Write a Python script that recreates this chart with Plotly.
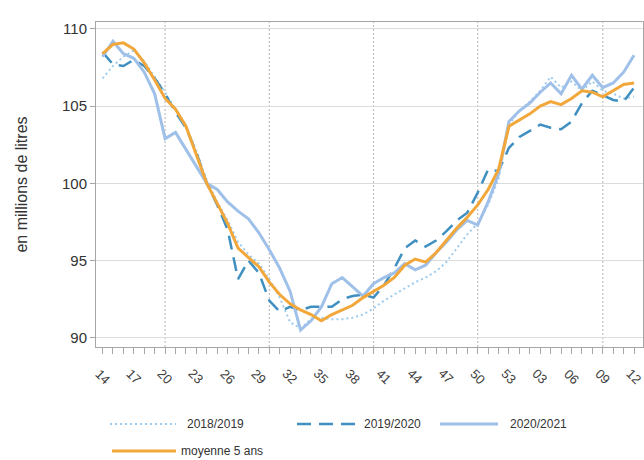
import plotly.graph_objects as go

weeks = ["14", "15", "16", "17", "18", "19", "20", "21", "22", "23", "24", "25", "26",
         "27", "28", "29", "30", "31", "32", "33", "34", "35", "36", "37", "38", "39",
         "40", "41", "42", "43", "44", "45", "46", "47", "48", "49", "50", "51", "52",
         "53", "01", "02", "03", "04", "05", "06", "07", "08", "09", "10", "11", "12"]
tick_labels = ["14", "17", "20", "23", "26", "29", "32", "35", "38", "41", "44", "47",
               "50", "53", "03", "06", "09", "12"]
grid_weeks = ["20", "30", "40", "50", "09"]

s2018 = [106.8, 107.6, 108.2, 108.6, 107.9, 106.9, 105.9, 104.8, 103.7, 102.1, 100.2,
         98.8, 97.6, 96.2, 95.4, 94.8, 93.8, 92.6, 91.0, 90.6, 91.2, 91.3, 91.2, 91.2,
         91.3, 91.5, 91.9, 92.4, 92.8, 93.2, 93.6, 93.9, 94.3, 94.9, 95.8, 96.7, 97.4,
         98.6, 100.3, 103.8, 104.7, 105.3, 106.0, 106.9, 106.2, 106.6, 106.0, 106.6,
         106.0, 105.8, 105.5, 105.6]
s2019 = [108.5, 107.7, 107.6, 108.0, 107.6, 106.8, 105.8, 104.6, 103.6, 102.0, 100.0,
         98.6, 97.0, 93.8, 95.0, 94.2, 92.4, 91.7, 92.0, 91.8, 92.0, 92.0, 92.0, 92.5,
         92.7, 92.8, 92.6, 93.4, 94.5, 95.8, 96.3, 95.9, 96.3, 96.9, 97.6, 98.1, 99.4,
         100.9, 100.8, 102.3, 103.0, 103.4, 103.8, 103.6, 103.5, 104.0, 105.2, 106.0,
         105.7, 105.4, 105.3, 106.2]
s2020 = [108.2, 109.2, 108.4, 108.1, 107.2, 105.8, 102.9, 103.3, 102.2, 101.1, 100.0,
         99.6, 98.8, 98.2, 97.7, 96.8, 95.7, 94.5, 93.0, 90.5, 91.1, 92.0, 93.5, 93.9,
         93.3, 92.7, 93.5, 93.9, 94.2, 94.8, 94.4, 94.7, 95.5, 96.2, 97.0, 97.6, 97.3,
         98.8, 100.6, 104.0, 104.7, 105.2, 105.9, 106.5, 105.8, 107.0, 106.1, 107.0,
         106.2, 106.5, 107.2, 108.3]
moyenne = [108.4, 109.0, 109.1, 108.7, 107.8, 106.7, 105.5, 104.8, 103.7, 101.9, 100.0,
           98.7, 97.4, 95.8, 95.2, 94.6, 93.6, 92.8, 92.2, 91.8, 91.5, 91.1, 91.5, 91.8,
           92.1, 92.6, 93.0, 93.4, 93.9, 94.7, 95.1, 94.9, 95.5, 96.3, 97.1, 97.8, 98.6,
           99.6, 100.9, 103.7, 104.1, 104.5, 105.0, 105.3, 105.1, 105.5, 106.0, 105.9,
           105.6, 106.0, 106.4, 106.5]

names = ["2018/2019", "2019/2020", "2020/2021", "moyenne 5 ans"]
colors = ["#9CCBEF", "#3F90C0", "#9FC0E8", "#F2A73B"]
dashes = ["2px,3px", "14px,8px", "solid", "solid"]
widths = [2, 2.5, 3, 3]
series = [s2018, s2019, s2020, moyenne]

PL, PR, PT, PB = 96, 643, 22, 347  # plot area in pixels
W, H = 644, 460

fig = go.Figure()
for nm, ys, c, d, w in zip(names, series, colors, dashes, widths):
    fig.add_trace(go.Scatter(x=weeks, y=ys, mode="lines", name=nm,
                             line=dict(color=c, dash=d, width=w), showlegend=False))

# vertical dotted grid lines
for gw in grid_weeks:
    xi = weeks.index(gw)
    fig.add_shape(type="line", xref="x", yref="paper", x0=xi, x1=xi, y0=0, y1=1,
                  line=dict(color="#BFBFBF", width=1.2, dash="2px,2px"), layer="below")

def px_x(p):
    return (p - PL) / float(PR - PL)

def px_y(p):
    return (PB - p) / float(PB - PT)

# rotated x tick labels centred under their ticks
for lab in tick_labels:
    fig.add_annotation(xref="x", yref="paper", x=weeks.index(lab), y=px_y(376),
                       text=lab, textangle=45, showarrow=False,
                       xanchor="center", yanchor="middle",
                       font=dict(family="Liberation Sans, Arial", size=13, color="#404040"))

# custom legend
leg_items = [(110, 176, 185, 424), (297, 356, 362, 424), (440, 498, 508, 424),
             (112, 176, 179, 451)]
for (x0, x1, xt, yy), nm, c, d, w in zip(leg_items, names, colors, dashes, widths):
    fig.add_shape(type="line", xref="paper", yref="paper", x0=px_x(x0), x1=px_x(x1),
                  y0=px_y(yy), y1=px_y(yy), line=dict(color=c, dash=d, width=w))
    fig.add_annotation(xref="paper", yref="paper", x=px_x(xt), y=px_y(yy), text=nm,
                       showarrow=False, xanchor="left", yanchor="middle",
                       font=dict(family="Liberation Sans, Arial", size=12, color="#333333"))

ticktext = ["" for w in weeks]

fig.update_layout(
    width=W, height=H,
    margin=dict(l=PL, r=W - PR, t=PT, b=H - PB, autoexpand=False),
    paper_bgcolor="white", plot_bgcolor="white",
    font=dict(family="Liberation Sans, Arial", color="#333333"),
    xaxis=dict(type="category", tickmode="array", tickvals=weeks, ticktext=ticktext,
               range=[-0.63, 51.86], ticks="outside", ticklen=6,
               tickcolor="#A6A6A6", automargin=False,
               showgrid=False, showline=True, linecolor="#A6A6A6", mirror=True,
               zeroline=False),
    yaxis=dict(range=[89.4, 110.45], tickvals=[90, 95, 100, 105, 110], ticks="outside",
               ticklen=5, tickcolor="#A6A6A6", tickfont=dict(size=15, color="#333333"),
               showgrid=True, gridcolor="#DCDCDC", gridwidth=1, showline=True,
               linecolor="#A6A6A6", mirror=True, zeroline=False, automargin=False,
               title=dict(text="en millions de litres", font=dict(size=16, color="#333333"),
                          standoff=30)),
)

fig.write_html("out.html", config={"displayModeBar": False},
               post_script="document.body.style.margin='0px';document.body.style.overflow='hidden';")
